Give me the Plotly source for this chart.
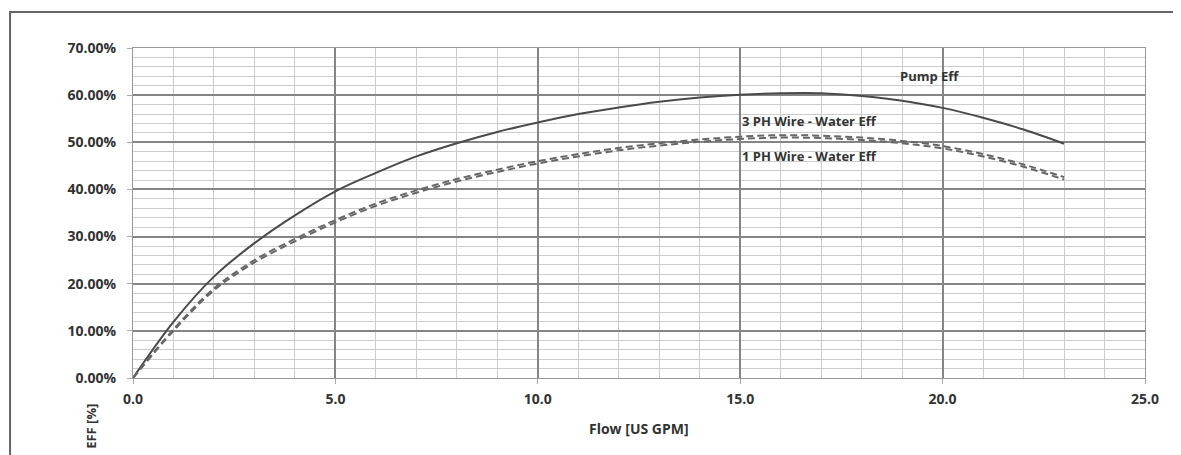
import plotly.graph_objects as go

flow = [0, 1, 2, 3, 4, 5, 6, 7, 8, 9, 10, 11, 12, 13, 14, 15, 16, 17, 18, 19, 20, 21, 22, 23]
pump_eff = [0, 11.9, 21.5, 28.6, 34.5, 39.6, 43.5, 47.0, 49.8, 52.2, 54.2, 56.0, 57.4, 58.6,
            59.5, 60.1, 60.4, 60.4, 59.8, 58.8, 57.3, 55.2, 52.7, 49.7]
ph3_eff = [0, 10.3, 19.0, 25.0, 29.5, 33.5, 37.0, 39.8, 42.2, 44.2, 46.0, 47.5, 48.8, 49.8,
           50.6, 51.2, 51.5, 51.4, 51.0, 50.3, 49.2, 47.5, 45.3, 42.6]
ph1_eff = [0, 10.0, 18.6, 24.5, 29.0, 33.0, 36.5, 39.3, 41.7, 43.7, 45.5, 47.0, 48.3, 49.3,
           50.1, 50.7, 51.0, 50.9, 50.5, 49.8, 48.7, 47.0, 44.8, 42.1]

font = "Open Sans"

fig = go.Figure()
fig.add_trace(go.Scatter(x=flow, y=pump_eff, mode="lines", line_shape="spline",
                         line=dict(color="#4a4a4a", width=2), name="Pump Eff"))
fig.add_trace(go.Scatter(x=flow, y=ph3_eff, mode="lines", line_shape="spline",
                         line=dict(color="#666666", width=2, dash="7px,4px"),
                         name="3 PH Wire - Water Eff"))
fig.add_trace(go.Scatter(x=flow, y=ph1_eff, mode="lines", line_shape="spline",
                         line=dict(color="#666666", width=2, dash="7px,4px"),
                         name="1 PH Wire - Water Eff"))

axis_style = dict(showgrid=True, gridcolor="#858585", gridwidth=2, zeroline=False,
                  showline=True, linecolor="#999999", linewidth=1, mirror=True,
                  ticks="outside", ticklen=5, tickcolor="#aaaaaa",
                  tickfont=dict(family=font, size=14, color="#333333", weight="bold"))
fig.update_xaxes(range=[0, 25], dtick=5, tickformat=".1f", ticklabelstandoff=3,
                 minor=dict(dtick=1, showgrid=True, gridcolor="#cccccc", gridwidth=1),
                 **axis_style)
fig.update_yaxes(range=[0, 70], dtick=10, tickformat=".2f", ticksuffix="%", ticklabelstandoff=8,
                 minor=dict(dtick=2, showgrid=True, gridcolor="#cccccc", gridwidth=1),
                 **axis_style)

labels = [("Pump Eff", 18.9, 64.1), ("3 PH Wire - Water Eff", 15.0, 54.5),
          ("1 PH Wire - Water Eff", 15.0, 47.1)]
for txt, lx, ly in labels:
    fig.add_annotation(x=lx, y=ly, text=txt, showarrow=False, xanchor="left",
                       font=dict(family=font, size=13, color="#333333", weight="bold"))

fig.add_annotation(xref="paper", yref="paper", x=0.5, y=-0.152, yanchor="middle",
                   text="Flow [US GPM]", showarrow=False,
                   font=dict(family=font, size=14, color="#333333", weight="bold"))
fig.add_annotation(xref="paper", yref="paper", x=-0.0415, y=-0.148, yanchor="middle",
                   xanchor="center", text="EFF [%]", textangle=-90, showarrow=False,
                   font=dict(family=font, size=13, color="#333333", weight="bold"))

# outer chart frame
fig.add_shape(type="rect", xref="paper", yref="paper", x0=-0.1215, y0=-0.4, x1=1.2, y1=1.109,
              line=dict(color="#666666", width=2), layer="below")

# page body adds 8px; margins compensate so the plot area lands where the reference has it
fig.update_layout(width=1181, height=455, margin=dict(l=125, r=44, t=40, b=85),
                  paper_bgcolor="white", plot_bgcolor="white", showlegend=False)

fig.write_html("out.html")
